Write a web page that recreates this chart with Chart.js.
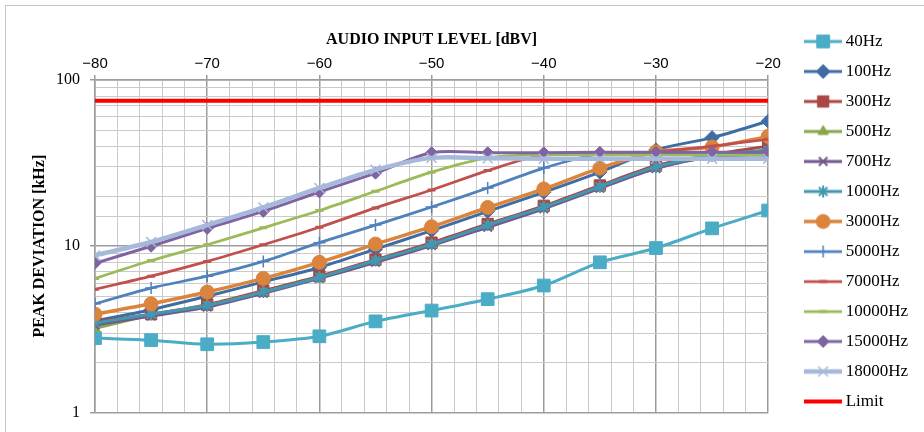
<!DOCTYPE html>
<html>
<head>
<meta charset="utf-8">
<title>Peak deviation vs audio input level</title>
<script src="https://cdn.jsdelivr.net/npm/chart.js@4.4.1/dist/chart.umd.min.js"></script>
<style>
  html, body { margin: 0; padding: 0; background: #ffffff; }
  #wrap { position: relative; width: 924px; height: 432px; }
</style>
</head>
<body>
<div id="wrap"><canvas id="deviation-chart"></canvas></div>
<script>
// Audio input level [dBV] (x axis, shown on top)
const inputLevels = [-80, -75, -70, -65, -60, -55, -50, -45, -40, -35, -30, -25, -20];

const seriesLabels = [
  "40Hz", "100Hz", "300Hz", "500Hz", "700Hz", "1000Hz", "3000Hz",
  "5000Hz", "7000Hz", "10000Hz", "15000Hz", "18000Hz", "Limit",
];

// Peak deviation [kHz]
const dev40Hz    = [2.8, 2.72, 2.57, 2.65, 2.87, 3.53, 4.1, 4.8, 5.8, 8.0, 9.75, 12.8, 16.4];
const dev100Hz   = [3.55, 4.15, 5.0, 6.1, 7.45, 9.6, 12.4, 16.2, 21.1, 27.9, 38.0, 45.0, 56.5];
const dev300Hz   = [3.5, 3.9, 4.45, 5.4, 6.6, 8.3, 10.5, 13.6, 17.5, 23.2, 30.5, 35.5, 40.0];
const dev500Hz   = [3.2, 3.85, 4.4, 5.3, 6.45, 8.1, 10.2, 13.2, 17.0, 22.5, 29.5, 34.5, 36.0];
const dev700Hz   = [3.35, 3.8, 4.3, 5.2, 6.4, 8.0, 10.1, 13.0, 16.8, 22.3, 29.3, 34.5, 35.5];
const dev1000Hz  = [3.45, 3.9, 4.4, 5.3, 6.5, 8.2, 10.3, 13.4, 17.2, 22.8, 30.0, 35.0, 38.0];
const dev3000Hz  = [3.9, 4.5, 5.3, 6.4, 8.0, 10.3, 13.1, 17.1, 22.1, 29.5, 36.9, 39.5, 45.8];
const dev5000Hz  = [4.5, 5.6, 6.6, 8.1, 10.5, 13.4, 17.2, 22.4, 29.5, 36.0, 36.5, 36.5, 36.5];
const dev7000Hz  = [5.5, 6.6, 8.1, 10.2, 13.0, 17.0, 21.8, 28.5, 35.5, 36.0, 37.0, 40.0, 44.0];
const dev10000Hz = [6.4, 8.2, 10.2, 12.9, 16.4, 21.4, 27.9, 34.0, 35.5, 35.5, 35.5, 35.5, 35.5];
const dev15000Hz = [7.9, 10.0, 12.8, 16.2, 21.2, 27.5, 36.5, 36.5, 36.5, 36.7, 36.7, 36.7, 36.7];
const dev18000Hz = [8.8, 10.6, 13.4, 17.1, 22.4, 28.8, 34.0, 33.8, 33.6, 33.6, 33.6, 33.6, 33.6];
const limitKHz   = [75, 75, 75, 75, 75, 75, 75, 75, 75, 75, 75, 75, 75];

const seriesData = [
  dev40Hz, dev100Hz, dev300Hz, dev500Hz, dev700Hz, dev1000Hz, dev3000Hz,
  dev5000Hz, dev7000Hz, dev10000Hz, dev15000Hz, dev18000Hz, limitKHz,
];

// line / marker look of each series (same order as the labels)
const seriesStyles = [
  { color: "#4BACC6", width: 3,    marker: "rect",     radius: 9, markerBorder: 1 },
  { color: "#3F6CA3", width: 3,    marker: "rectRot",  radius: 7, markerBorder: 1 },
  { color: "#AA4643", width: 3,    marker: "rect",     radius: 8, markerBorder: 1 },
  { color: "#89A54E", width: 3,    marker: "triangle", radius: 6, markerBorder: 1 },
  { color: "#71588F", width: 3,    marker: "crossRot", radius: 6, markerBorder: 2 },
  { color: "#4198AF", width: 3,    marker: "star",     radius: 6, markerBorder: 2 },
  { color: "#DB843D", width: 3.5,  marker: "circle",   radius: 7, markerBorder: 1 },
  { color: "#4F81BD", width: 2.75, marker: "cross",    radius: 6, markerBorder: 1.5 },
  { color: "#C0504D", width: 2.75, marker: "line",     radius: 4, markerBorder: 3 },
  { color: "#9BBB59", width: 2.75, marker: "line",     radius: 4, markerBorder: 3 },
  { color: "#8064A2", width: 3,    marker: "rectRot",  radius: 6, markerBorder: 1 },
  { color: "#A7B9DB", width: 4.5,  marker: "crossRot", radius: 7, markerBorder: 1.5 },
  { color: "#FF0000", width: 4,    marker: null,       radius: 0, markerBorder: 0 },
];

const GRID_MAJOR = "#9c9c9c";
const GRID_MINOR = "#cacaca";

function isDecade(v) {
  const l = Math.log10(v);
  return Math.abs(l - Math.round(l)) < 1e-9;
}

// small picture of line + marker, used as the legend symbol
function makeLegendIcon(s) {
  const c = document.createElement("canvas");
  c.width = 38;
  c.height = 18;
  const g = c.getContext("2d");
  g.strokeStyle = s.color;
  g.lineWidth = s.width;
  g.beginPath();
  g.moveTo(0, 9);
  g.lineTo(38, 9);
  g.stroke();
  if (s.marker && Chart.helpers && Chart.helpers.drawPoint) {
    g.fillStyle = s.color;
    g.lineWidth = s.markerBorder;
    Chart.helpers.drawPoint(g, { pointStyle: s.marker, radius: s.radius, rotation: 0, borderWidth: s.markerBorder }, 19, 9);
  }
  return c;
}

const legendIcons = seriesStyles.map(makeLegendIcon);

const datasets = seriesLabels.map((label, i) => {
  const s = seriesStyles[i];
  return {
    label: label,
    data: inputLevels.map((x, j) => ({ x: x, y: seriesData[i][j] })),
    borderColor: s.color,
    backgroundColor: s.color,
    borderWidth: s.width,
    pointStyle: s.marker || "circle",
    pointRadius: s.marker ? s.radius : 0,
    pointHoverRadius: s.marker ? s.radius : 0,
    pointBorderWidth: s.markerBorder,
    pointBackgroundColor: s.color,
    pointBorderColor: s.color,
    tension: s.marker ? 0.3 : 0,
    // later series are painted over earlier ones
    order: seriesLabels.length - i,
  };
});

// thin outer frame of the chart object
const chartFrame = {
  id: "chartFrame",
  beforeDraw(chart) {
    const ctx = chart.ctx;
    ctx.save();
    ctx.strokeStyle = "#c4c4c4";
    ctx.lineWidth = 1;
    ctx.strokeRect(5.5, 5.5, 940, 440);
    ctx.restore();
  },
};

new Chart(document.getElementById("deviation-chart"), {
  type: "line",
  data: { datasets: datasets },
  plugins: [chartFrame],
  options: {
    responsive: true,
    maintainAspectRatio: false,
    animation: false,
    devicePixelRatio: 1,
    layout: { padding: { top: 11, bottom: 0, left: 22, right: 6 } },
    plugins: {
      tooltip: { enabled: false },
      legend: {
        position: "right",
        align: "center",
        labels: {
          usePointStyle: true,
          pointStyleWidth: 28,
          padding: 13,
          color: "#000",
          font: { family: "'Liberation Serif', 'Times New Roman', serif", size: 17 },
          generateLabels: (chart) =>
            chart.data.datasets.map((ds, i) => ({
              text: ds.label,
              pointStyle: legendIcons[i],
              fillStyle: ds.borderColor,
              strokeStyle: ds.borderColor,
              lineWidth: 0,
              hidden: false,
              datasetIndex: i,
            })),
        },
      },
    },
    scales: {
      x: {
        type: "linear",
        position: "top",
        min: -80,
        max: -20,
        afterFit: (scale) => { scale.height = 69; },
        title: {
          display: true,
          text: "AUDIO INPUT LEVEL [dBV]",
          color: "#000",
          font: { family: "'Liberation Serif', 'Times New Roman', serif", size: 16, weight: "bold" },
          padding: { top: 19.5, bottom: 0 },
        },
        ticks: {
          stepSize: 2,
          autoSkip: false,
          maxRotation: 0,
          padding: 2,
          color: "#000",
          font: { family: "'Liberation Sans', Arial, sans-serif", size: 15 },
          callback: (v) => (v % 10 === 0 ? "\u2212" + Math.abs(v) : ""),
        },
        grid: {
          tickLength: 5,
          color: (ctx) => (ctx.tick && ctx.tick.value % 10 === 0 ? GRID_MAJOR : GRID_MINOR),
          lineWidth: (ctx) => (ctx.tick && ctx.tick.value % 10 === 0 ? 1.5 : 1),
          tickColor: (ctx) => (ctx.tick && ctx.tick.value % 10 === 0 ? GRID_MAJOR : "rgba(0,0,0,0)"),
        },
        border: { color: GRID_MAJOR, width: 1.5 },
      },
      y: {
        type: "logarithmic",
        position: "left",
        min: 1,
        max: 100,
        afterFit: (scale) => { scale.width = 73; },
        title: {
          display: true,
          text: "PEAK DEVIATION [kHz]",
          color: "#000",
          font: { family: "'Liberation Serif', 'Times New Roman', serif", size: 16, weight: "bold" },
          padding: { top: 8, bottom: 0 },
        },
        ticks: {
          autoSkip: false,
          padding: 10,
          color: "#000",
          font: { family: "'Liberation Serif', 'Times New Roman', serif", size: 16 },
          callback: (v) => (isDecade(v) ? String(v) : ""),
        },
        grid: {
          tickLength: 5,
          color: (ctx) => (ctx.tick && isDecade(ctx.tick.value) ? GRID_MAJOR : GRID_MINOR),
          lineWidth: (ctx) => (ctx.tick && isDecade(ctx.tick.value) ? 1.5 : 1),
          tickColor: (ctx) => (ctx.tick && isDecade(ctx.tick.value) ? GRID_MAJOR : "rgba(0,0,0,0)"),
        },
        border: { color: GRID_MAJOR, width: 1.5 },
      },
      // empty spacers: between plot and legend, and below the plot
      spacerRight: {
        type: "linear",
        position: "right",
        display: true,
        afterFit: (scale) => { scale.width = 28; },
        grid: { display: false },
        ticks: { display: false },
        border: { display: false },
      },
      spacerBottom: {
        type: "linear",
        position: "bottom",
        display: true,
        afterFit: (scale) => { scale.height = 16; },
        grid: { display: false },
        ticks: { display: false },
        border: { display: false },
      },
    },
  },
});
</script>
</body>
</html>
